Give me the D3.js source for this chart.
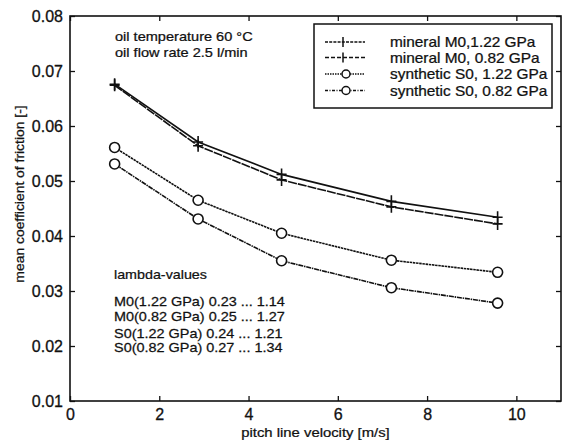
<!DOCTYPE html>
<meta charset="utf-8">
<style>
  body { margin: 0; background: #fff; }
  svg { display: block; font-family: "Liberation Sans", Arial, sans-serif; }
</style>
<svg width="562" height="446"></svg>
<script src="https://d3js.org/d3.v7.min.js"></script>
<script>
// pitch line velocity [m/s]
const velocity = [1.0, 2.87, 4.74, 7.2, 9.58]

// mean coefficient of friction, one array per oil / pressure
const m0_122 = [0.0676, 0.0571, 0.0512, 0.0463, 0.0434]
const m0_082 = [0.0674, 0.0564, 0.0502, 0.0453, 0.0422]
const s0_122 = [0.0561, 0.0465, 0.0405, 0.0356, 0.0334]
const s0_082 = [0.0531, 0.0431, 0.0355, 0.0306, 0.0278]

const seriesNames = ["mineral M0,1.22 GPa", "mineral M0, 0.82 GPa",
                     "synthetic S0, 1.22 GPa", "synthetic S0, 0.82 GPa"]
const xTicks = [0, 2, 4, 6, 8, 10]
const yTicks = [0.01, 0.02, 0.03, 0.04, 0.05, 0.06, 0.07, 0.08]
const lambdaLines = ["M0(1.22 GPa) 0.23 ... 1.14", "M0(0.82 GPa) 0.25 ... 1.27",
                     "S0(1.22 GPa) 0.24 ... 1.21", "S0(0.82 GPa) 0.27 ... 1.34"]

const series = [
  { name: seriesNames[0], values: m0_122, marker: "plus",   dash: null,          legendDash: "3,1.2" },
  { name: seriesNames[1], values: m0_082, marker: "plus",   dash: "9,1",         legendDash: "4,2" },
  { name: seriesNames[2], values: s0_122, marker: "circle", dash: "2.5,0.7",     legendDash: "1.5,1" },
  { name: seriesNames[3], values: s0_082, marker: "circle", dash: "5,0.8,1.5,0.8", legendDash: "3,1.5,1,1.5" }
]

const svg = d3.select("svg")
// plot box (avoid "top", which is a browser global)
const boxL = 70, boxR = 561, boxT = 16, boxB = 401

const x = d3.scaleLinear().domain([0, 11]).range([boxL, boxR])
const y = d3.scaleLinear().domain([0.01, 0.08]).range([boxB, boxT])

// the scanned lettering is wider than Liberation Sans, so stretch it a bit
function label(parent, px, py, txt, size, sx, anchor, rot) {
  return parent.append("text")
    .attr("transform", `translate(${px},${py})${rot ? " rotate(" + rot + ")" : ""} scale(${sx},1)`)
    .attr("text-anchor", anchor || "start")
    .attr("font-size", size)
    .attr("fill", "#111").attr("stroke", "#111").attr("stroke-width", 0.25)
    .text(txt)
}

// frame
svg.append("rect")
  .attr("x", boxL).attr("y", boxT)
  .attr("width", boxR - boxL).attr("height", boxB - boxT)
  .attr("fill", "none").attr("stroke", "#111").attr("stroke-width", 1.6)

// inward ticks on all four sides
const tickLen = 5
svg.append("g").attr("transform", `translate(0,${boxB})`)
  .call(d3.axisBottom(x).tickValues(xTicks).tickSizeInner(-tickLen).tickSizeOuter(0).tickPadding(8).tickFormat(d3.format("d")))
svg.append("g").attr("transform", `translate(0,${boxT})`)
  .call(d3.axisTop(x).tickValues(xTicks).tickSizeInner(-tickLen).tickSizeOuter(0).tickFormat(""))
svg.append("g").attr("transform", `translate(${boxL},0)`)
  .call(d3.axisLeft(y).tickValues(yTicks).tickSizeInner(-tickLen).tickSizeOuter(0).tickPadding(7).tickFormat(d3.format(".2f")))
svg.append("g").attr("transform", `translate(${boxR},0)`)
  .call(d3.axisRight(y).tickValues(yTicks).tickSizeInner(-tickLen).tickSizeOuter(0).tickFormat(""))

svg.selectAll(".domain").remove()
svg.selectAll(".tick line").attr("stroke", "#111").attr("stroke-width", 1.3)
svg.selectAll(".tick text")
  .attr("fill", "#111").attr("stroke", "#111").attr("stroke-width", 0.3)
  .style("font-size", "16px")
  .style("font-family", "'Liberation Sans', Arial, sans-serif")

// axis titles
label(svg, 315.5, 437, "pitch line velocity [m/s]", 13.5, 1.1, "middle")
label(svg, 24, 194, "mean coefficient of friction [-]", 13.5, 1.03, "middle", -90)

// lines and markers
const line = d3.line().x((d, i) => x(velocity[i])).y(d => y(d))

function drawMarker(g, type, cx, cy) {
  if (type === "plus") {
    g.append("path")
      .attr("d", `M${cx - 5},${cy}H${cx + 5}M${cx},${cy - 6}V${cy + 6}`)
      .attr("stroke", "#111").attr("stroke-width", 1.6).attr("fill", "none")
  } else {
    g.append("circle").attr("cx", cx).attr("cy", cy).attr("r", 5)
      .attr("stroke", "#111").attr("stroke-width", 1.6).attr("fill", "#fff")
  }
}

series.forEach(s => {
  const g = svg.append("g")
  g.append("path")
    .attr("d", line(s.values))
    .attr("fill", "none").attr("stroke", "#111").attr("stroke-width", 1.6)
    .attr("stroke-dasharray", s.dash)
  s.values.forEach((v, i) => drawMarker(g, s.marker, x(velocity[i]), y(v)))
})

// legend
const lg = svg.append("g")
lg.append("rect")
  .attr("x", 314).attr("y", 24).attr("width", 238).attr("height", 84)
  .attr("fill", "#fff").attr("stroke", "#111").attr("stroke-width", 1.5)
const legendRows = [42, 57.5, 74, 90.5]
series.forEach((s, i) => {
  const ly = legendRows[i]
  lg.append("line")
    .attr("x1", 325).attr("x2", 365).attr("y1", ly).attr("y2", ly)
    .attr("stroke", "#111").attr("stroke-width", 1.3)
    .attr("stroke-dasharray", s.legendDash)
  if (s.marker === "plus") {
    lg.append("path").attr("d", `M343,${ly - 5}V${ly + 5}`)
      .attr("stroke", "#111").attr("stroke-width", 1.5)
  } else {
    lg.append("circle").attr("cx", 346).attr("cy", ly).attr("r", 4)
      .attr("fill", "#fff").attr("stroke", "#111").attr("stroke-width", 1.5)
  }
  label(lg, 390, ly + 5, s.name, 14, 1.1)
})

// annotations
label(svg, 115, 41, "oil temperature 60 \u00B0C", 13, 1.12)
label(svg, 115, 57, "oil flow rate 2.5 l/min", 13, 1.12)
label(svg, 114, 279, "lambda-values", 13, 1.1)
const lambdaY = [306, 321, 337.5, 352]
lambdaLines.forEach((t, i) => label(svg, 114, lambdaY[i], t, 13.5, 1.07))
</script>
